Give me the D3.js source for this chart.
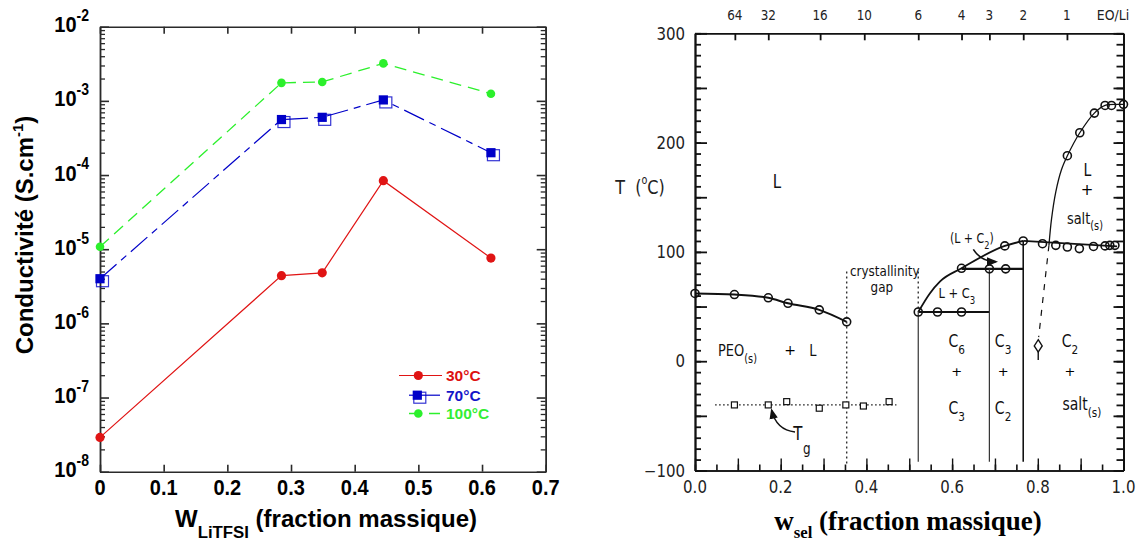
<!DOCTYPE html>
<html><head><meta charset="utf-8">
<script src="https://cdn.jsdelivr.net/npm/d3@7"></script>
<style>body{margin:0;background:#fff}svg{display:block}text{white-space:pre}</style>
</head><body>
<svg id="c" width="1141" height="543"></svg>
<script>
// ---------------- LEFT CHART DATA ----------------
const wLiTFSI = [0, 0.285, 0.349, 0.445, 0.614];
const sigma30 = [2.9e-8, 4.4e-6, 4.8e-6, 8.4e-5, 7.6e-6];
const sigma70 = [4.0e-6, 5.6e-4, 6.0e-4, 1.03e-3, 2.0e-4];
const sigma100 = [1.08e-5, 1.75e-3, 1.8e-3, 3.2e-3, 1.25e-3];
const seriesNames = ['30°C', '70°C', '100°C'];
const xTicksLeft = [0, 0.1, 0.2, 0.3, 0.4, 0.5, 0.6, 0.7];
const xTickLabelsLeft = ['0', '0.1', '0.2', '0.3', '0.4', '0.5', '0.6', '0.7'];
const decadeExps = [-8, -7, -6, -5, -4, -3, -2];
const minorMults = [2, 3, 4, 5, 6, 7, 8, 9];

// ---------------- RIGHT CHART DATA (phase diagram) ----------------
const peoLiquidus = [[0.0,62],[0.092,61],[0.171,58],[0.217,53],[0.29,47],[0.354,36]];
const tgPoints = [[0.092,-40],[0.171,-40],[0.214,-37],[0.29,-43],[0.352,-40],[0.393,-41],[0.453,-37]];
const tgLine = [[0.047,-40],[0.47,-40]];
const c3Liquidus = [[0.521,45],[0.548,62],[0.572,73],[0.622,85],[0.723,105.5],[0.766,110]];
const c3LiqPts = [[0.521,45],[0.622,85],[0.723,105.5],[0.766,110]];
const eutecticLine = [[0.766,110],[0.985,105]];
const eutecticPts = [[0.811,107.5],[0.842,106],[0.869,104.5],[0.897,103],[0.93,105],[0.957,105.5],[0.968,106],[0.98,106]];
const saltLiquidus = [[0.826,106],[0.832,130],[0.842,155],[0.855,175],[0.869,188],[0.898,209],[0.932,227],[0.957,234],[0.985,235],[1.0,235]];
const saltLiqPts = [[0.869,188],[0.898,209],[0.932,227],[0.957,234],[0.972,234],[1.0,235]];
const line45 = [[0.521,45],[0.687,45]];
const line45Pts = [[0.566,45],[0.622,45]];
const line84 = [[0.622,84.5],[0.766,84.5]];
const line84Pts = [[0.687,84.5],[0.725,84.5]];
const phaseBounds = [[0.521,45],[0.687,84.5],[0.766,110]];
const boundBottom = -92;
const gapBounds = [[0.354,82,-96],[0.521,82,45]];
const dashedLiq = [[0.826,106],[0.802,22]];
const diamondPt = [0.801,14];
const eoLiValues = ['64','32','16','10','6','4','3','2','1'];
const eoLiW = [0.093,0.171,0.292,0.395,0.521,0.622,0.687,0.766,0.868];
const yTicksRight = [-100,0,100,200,300];
const xTicksRight = [0,0.2,0.4,0.6,0.8,1.0];

// ---------------- helpers ----------------
const svg = d3.select('#c');
function rich(g, x, y, parts, o) {
  const sy = o.sy || 1;
  if (o.center) y += 0.36 * o.size * sy;
  const t = g.append('text')
    .attr('transform', `translate(${x},${y})` + (o.rotate ? ` rotate(${o.rotate})` : '') + (sy !== 1 ? ` scale(1,${sy})` : ''))
    .attr('text-anchor', o.anchor || 'middle')
    .attr('font-family', o.family).attr('font-size', o.size)
    .attr('font-weight', o.weight || 'normal')
    .attr('fill', o.fill || '#000');
  let off = 0;
  parts.forEach(p => {
    const [txt, kind] = typeof p === 'string' ? [p, 'n'] : p;
    const target = kind === 'sub' ? o.size * (o.subShift || 0.35) : kind === 'sup' ? -o.size * (o.supShift || 0.42) : 0;
    const ts = t.append('tspan').text(txt).attr('dy', target - off);
    if (kind !== 'n') ts.attr('font-size', o.size * (o.subScale || 0.7));
    off = target;
  });
  return t;
}

// ================= LEFT CHART =================
const L = svg.append('g');
const xL = d3.scaleLinear().domain([0, 0.7]).range([100, 545.7]);
const yL = d3.scaleLog().domain([1e-8, 1e-2]).range([471.7, 26.7]);
const frameL = '#2a2a2a';
const decadeVals = decadeExps.map(e => Math.pow(10, e));
const minorVals = decadeExps.slice(0, -1).flatMap(e => minorMults.map(m => m * Math.pow(10, e)));

function styleAxis(sel, col, w) {
  sel.selectAll('path,line').attr('stroke', col).attr('stroke-width', w);
  sel.selectAll('text').remove();
}
const [lx0, lx1] = xL.range(), [ly0, ly1] = yL.range();
L.append('g').attr('transform', `translate(${lx0},0)`).call(d3.axisLeft(yL).tickValues(decadeVals).tickSize(-9).tickSizeOuter(0)).call(s => styleAxis(s, frameL, 1.6));
L.append('g').attr('transform', `translate(${lx0},0)`).call(d3.axisLeft(yL).tickValues(minorVals).tickSize(-5).tickSizeOuter(0)).call(s => styleAxis(s, frameL, 1.3));
L.append('g').attr('transform', `translate(${lx1},0)`).call(d3.axisRight(yL).tickValues(decadeVals).tickSize(-9).tickSizeOuter(0)).call(s => styleAxis(s, frameL, 1.6));
L.append('g').attr('transform', `translate(${lx1},0)`).call(d3.axisRight(yL).tickValues(minorVals).tickSize(-5).tickSizeOuter(0)).call(s => styleAxis(s, frameL, 1.3));
L.append('g').attr('transform', `translate(0,${ly0})`).call(d3.axisBottom(xL).tickValues(xTicksLeft).tickSize(-7).tickSizeOuter(0)).call(s => styleAxis(s, frameL, 1.6));
L.append('g').attr('transform', `translate(0,${ly1})`).call(d3.axisTop(xL).tickValues(xTicksLeft).tickSize(-7).tickSizeOuter(0)).call(s => styleAxis(s, frameL, 1.6));

const fontL = 'Liberation Sans, Arial, sans-serif';
xTicksLeft.forEach((v, i) => rich(L, xL(v), 495, [xTickLabelsLeft[i]], {family: fontL, size: 20, weight: 'bold', sy: 1.12}));
decadeExps.forEach(e => rich(L, 89, yL(Math.pow(10, e)) + 5.5, ['10', [String(e), 'sup']], {family: fontL, size: 20, weight: 'bold', anchor: 'end', sy: 1.12, subScale: 0.7, supShift: 0.5}));
rich(L, 33, 235, ['Conductivité (S.cm', ['-1', 'sup'], ')'], {family: fontL, size: 24, weight: 'bold', rotate: -90, subScale: 0.62, supShift: 0.42});
rich(L, 326, 527, ['W', ['LiTFSI', 'sub'], ' (fraction massique)'], {family: fontL, size: 24, weight: 'bold', subScale: 0.7, subShift: 0.45});

const colRed = '#e01414', colBlue = '#0000c8', colGreen = '#2cf02c';
const lineL = d3.line().x(d => xL(d[0])).y(d => yL(d[1]));
const mk = arr => wLiTFSI.map((w, i) => [w, arr[i]]);
const d30 = mk(sigma30), d70 = mk(sigma70), d100 = mk(sigma100);

L.append('path').datum(d100).attr('d', lineL).attr('fill', 'none').attr('stroke', colGreen).attr('stroke-width', 1.3).attr('stroke-dasharray', '12,7');
L.append('path').datum(d70).attr('d', lineL).attr('fill', 'none').attr('stroke', colBlue).attr('stroke-width', 1.2).attr('stroke-dasharray', '22,6,7,6');
L.append('path').datum(d30).attr('d', lineL).attr('fill', 'none').attr('stroke', colRed).attr('stroke-width', 1.2);

function blueMarker(g, cx, cy) {
  g.append('rect').attr('x', cx - 3.5).attr('y', cy - 3).attr('width', 12).attr('height', 11).attr('fill', 'none').attr('stroke', colBlue).attr('stroke-width', 1.2).attr('opacity', 0.8);
  g.append('rect').attr('x', cx - 4.6).attr('y', cy - 4.6).attr('width', 9.2).attr('height', 9.2).attr('fill', colBlue);
}
L.selectAll('.g100').data(d100).enter().append('circle').attr('cx', d => xL(d[0])).attr('cy', d => yL(d[1])).attr('r', 4.3).attr('fill', colGreen);
d70.forEach(d => blueMarker(L, xL(d[0]), yL(d[1])));
L.selectAll('.r30').data(d30).enter().append('circle').attr('cx', d => xL(d[0])).attr('cy', d => yL(d[1])).attr('r', 4.6).attr('fill', colRed);

// legend
const legY = [375.5, 395.2, 413.5];
const legX = 418.3;
L.append('line').attr('x1', 399).attr('x2', 442).attr('y1', legY[0]).attr('y2', legY[0]).attr('stroke', colRed).attr('stroke-width', 1.2);
L.append('circle').attr('cx', legX).attr('cy', legY[0]).attr('r', 4.6).attr('fill', colRed);
L.append('line').attr('x1', 409).attr('x2', 440).attr('y1', legY[1]).attr('y2', legY[1]).attr('stroke', colBlue).attr('stroke-width', 1.2);
blueMarker(L, legX - 1, legY[1]);
L.append('line').attr('x1', 409).attr('x2', 440).attr('y1', legY[2]).attr('y2', legY[2]).attr('stroke', colGreen).attr('stroke-width', 1.3).attr('stroke-dasharray', '10,10,12');
L.append('circle').attr('cx', legX).attr('cy', legY[2]).attr('r', 4.3).attr('fill', colGreen);
const legCols = ['#dd1111', '#1414c8', '#33ee33'];
seriesNames.forEach((n, i) => rich(L, 446, legY[i] + 5.5, [n], {family: fontL, size: 15.5, weight: 'bold', anchor: 'start', fill: legCols[i]}));

// ================= RIGHT CHART =================
const R = svg.append('g');
const xR = d3.scaleLinear().domain([0, 1]).range([695, 1123.5]);
const yR = d3.scaleLinear().domain([-100, 300]).range([470.5, 33.3]);
const [rx0, rx1] = xR.range(), [ry0, ry1] = yR.range();
const ink = '#111';
const fontR = 'DejaVu Sans, sans-serif';

R.append('g').attr('transform', `translate(${rx0},0)`).call(d3.axisLeft(yR).tickValues(d3.range(-100, 301, 10)).tickSize(-6).tickSizeOuter(0)).call(s => styleAxis(s, ink, 1.8));
R.append('g').attr('transform', `translate(${rx0},0)`).call(d3.axisLeft(yR).tickValues(d3.range(-100, 301, 50)).tickSize(-12).tickSizeOuter(0)).call(s => styleAxis(s, ink, 1.8));
R.append('g').attr('transform', `translate(${rx1},0)`).call(d3.axisRight(yR).tickValues(d3.range(-100, 301, 10)).tickSize(-7).tickSizeOuter(0)).call(s => styleAxis(s, ink, 1.8));
R.append('g').attr('transform', `translate(${rx1},0)`).call(d3.axisRight(yR).tickValues(d3.range(-100, 301, 50)).tickSize(-10).tickSizeOuter(0)).call(s => styleAxis(s, ink, 1.8));
R.append('g').attr('transform', `translate(0,${ry0})`).call(d3.axisBottom(xR).tickValues(d3.range(0, 1.001, 0.05)).tickSize(-6).tickSizeOuter(0)).call(s => styleAxis(s, ink, 1.6));
R.append('g').attr('transform', `translate(0,${ry0})`).call(d3.axisBottom(xR).tickValues(d3.range(0, 1.001, 0.1)).tickSize(-12).tickSizeOuter(0)).call(s => styleAxis(s, ink, 1.4));
R.append('g').attr('transform', `translate(0,${ry1})`).call(d3.axisTop(xR).tickValues(eoLiW).tickSize(-7).tickSizeOuter(0)).call(s => styleAxis(s, ink, 1.8));

yTicksRight.forEach(v => rich(R, rx0 - 10, yR(v), [v < 0 ? '\u2212' + Math.abs(v) : String(v)], {family: fontR, size: 15, anchor: 'end', center: true, sy: 1.15, fill: '#222'}));
xTicksRight.forEach(v => rich(R, xR(v), 493, [v.toFixed(1)], {family: fontR, size: 15, sy: 1.2, fill: '#222'}));
eoLiValues.forEach((s, i) => rich(R, xR(eoLiW[i]), 20, [s], {family: fontR, size: 12, sy: 1.15, fill: '#222'}));
rich(R, 1113, 20, ['EO/Li'], {family: fontR, size: 12.5, sy: 1.15, fill: '#222'});
rich(R, 640, 187, ['T  (', ['o', 'sup'], 'C)'], {family: fontR, size: 16, center: true, sy: 1.2, fill: '#222', subScale: 0.6, supShift: 0.5});
rich(R, 908, 530, ['w', ['sel', 'sub'], ' (fraction massique)'], {family: 'Liberation Serif, Times New Roman, serif', size: 27, weight: 'bold', subScale: 0.62, subShift: 0.3});

const lineR = d3.line().x(d => xR(d[0])).y(d => yR(d[1]));
const smooth = d3.line().x(d => xR(d[0])).y(d => yR(d[1])).curve(d3.curveMonotoneX);
function path(data, gen, w, dash, col) {
  const p = R.append('path').datum(data).attr('d', gen).attr('fill', 'none').attr('stroke', col || ink).attr('stroke-width', w);
  if (dash) p.attr('stroke-dasharray', dash);
  return p;
}
path(peoLiquidus, smooth, 2);
path(tgLine, lineR, 1.3, '1.5,2.5');
path(c3Liquidus, smooth, 1.8);
path(eutecticLine, lineR, 1.8);
path(saltLiquidus, d3.line().x(d => xR(d[0])).y(d => yR(d[1])).curve(d3.curveCatmullRom), 1.3);
path(line45, lineR, 2.2);
path(line84, lineR, 2.2);
path(dashedLiq, lineR, 1.2, '6,7');
phaseBounds.forEach((b, i) => path([[b[0], b[1]], [b[0], boundBottom]], lineR, i === 2 ? 1.6 : 1.2, null, i === 2 ? '#111' : '#333'));
gapBounds.forEach(b => path([[b[0], b[1]], [b[0], b[2]]], lineR, 1.4, '2,3', '#333'));

const circlePts = [].concat(peoLiquidus, c3LiqPts, eutecticPts, saltLiqPts, line45Pts, line84Pts);
R.selectAll('.oc').data(circlePts).enter().append('circle').attr('cx', d => xR(d[0])).attr('cy', d => yR(d[1])).attr('r', 4).attr('fill', 'none').attr('stroke', ink).attr('stroke-width', 1.6);
R.selectAll('.sq').data(tgPoints).enter().append('rect').attr('x', d => xR(d[0]) - 3).attr('y', d => yR(d[1]) - 3).attr('width', 6).attr('height', 6).attr('fill', '#fff').attr('stroke', ink).attr('stroke-width', 1.2);
R.append('line').attr('x1', xR(diamondPt[0])).attr('x2', xR(diamondPt[0])).attr('y1', yR(diamondPt[1])).attr('y2', yR(diamondPt[1]) + 14).attr('stroke', ink).attr('stroke-width', 1.4);
R.append('path').attr('d', d3.symbol(d3.symbolDiamond, 55)).attr('transform', `translate(${xR(diamondPt[0])},${yR(diamondPt[1])}) scale(1,0.9)`).attr('fill', '#fff').attr('stroke', ink).attr('stroke-width', 1.4);

// arrows
const defs = svg.append('defs');
defs.append('marker').attr('id', 'ah').attr('viewBox', '0 0 10 10').attr('refX', 8).attr('refY', 5).attr('markerWidth', 7).attr('markerHeight', 7).attr('orient', 'auto')
  .append('path').attr('d', 'M0,1 L10,5 L0,9 z').attr('fill', ink);
const qpath = (a, c, b) => `M${xR(a[0])},${yR(a[1])} Q${xR(c[0])},${yR(c[1])} ${xR(b[0])},${yR(b[1])}`;
R.append('path').attr('d', qpath([0.2334, -64.7], [0.19, -63], [0.179, -45])).attr('fill', 'none').attr('stroke', ink).attr('stroke-width', 1.5).attr('marker-end', 'url(#ah)');
R.append('path').attr('d', qpath([0.6495, 102.3], [0.668, 91], [0.702, 91])).attr('fill', 'none').attr('stroke', ink).attr('stroke-width', 1.6).attr('marker-end', 'url(#ah)');

// region labels
const lab = (w, T, parts, size, anchor, sy) => rich(R, xR(w), yR(T), parts, {family: fontR, size: size || 13, center: true, sy: sy || 1.25, fill: ink, anchor: anchor || 'middle', subScale: 0.75, subShift: 0.4});
const plus = (w, T, size) => R.append('text').attr('x', xR(w)).attr('y', yR(T) + size * 0.36).attr('text-anchor', 'middle').attr('font-family', fontR).attr('font-size', size).attr('fill', '#000').attr('style', '-webkit-font-smoothing:antialiased').text('+');
lab(0.191, 164.8, ['L'], 15);
lab(0.0537, 10, ['PEO', ['(s)', 'sub']], 13, 'start');
plus(0.222, 10, 14);
lab(0.275, 10, ['L'], 13);
lab(0.443, 82.5, ['crystallinity'], 12, 'middle', 1.12);
lab(0.436, 68, ['gap'], 12, 'middle', 1.12);
lab(0.646, 112.6, ['(L + C', ['2', 'sub'], ')'], 11);
lab(0.611, 62.3, ['L + C', ['3', 'sub']], 11.5);
lab(0.611, 19.2, ['C', ['6', 'sub']], 14);
plus(0.611, -9.2, 13);
lab(0.611, -42.1, ['C', ['3', 'sub']], 14);
lab(0.719, 19.2, ['C', ['3', 'sub']], 14);
plus(0.719, -9.2, 13);
lab(0.719, -42.1, ['C', ['2', 'sub']], 14);
lab(0.875, 19.2, ['C', ['2', 'sub']], 14);
plus(0.875, -9.2, 13);
lab(0.903, -38.5, ['salt', ['(s)', 'sub']], 14);
lab(0.9155, 174.9, ['L'], 14);
plus(0.915, 156.6, 15);
lab(0.91, 131, ['salt', ['(s)', 'sub']], 13);
lab(0.240, -66, ['T'], 15);
lab(0.261, -80, ['g'], 12);
</script></body></html>
